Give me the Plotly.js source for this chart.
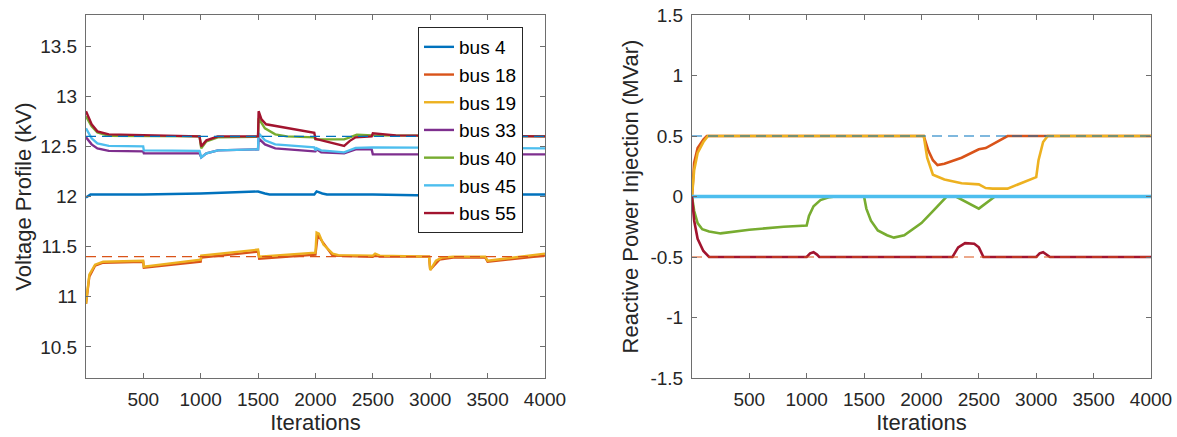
<!DOCTYPE html>
<html>
<head>
<meta charset="utf-8">
<script src="https://cdn.plot.ly/plotly-3.0.1.min.js"></script>
<style>html,body{margin:0;padding:0;background:#fff;}#chart{width:1177px;height:437px;}</style>
</head>
<body>
<div id="chart"></div>
<script>
// ---- data ----
const busNames = ["bus 4", "bus 18", "bus 19", "bus 33", "bus 40", "bus 45", "bus 55"];
const busColors = ["#0072BD", "#D95319", "#EDB120", "#7E2F8E", "#77AC30", "#4DBEEE", "#A2142F"];

// Voltage profile (kV)
const v4x  = [1, 40, 100, 500, 1000, 1300, 1500, 1560, 1600, 1990, 2010, 2060, 2100, 2500, 3000, 3500, 4000];
const v4y  = [11.99, 12.02, 12.02, 12.02, 12.03, 12.045, 12.05, 12.03, 12.02, 12.02, 12.05, 12.03, 12.02, 12.02, 12.01, 12.02, 12.02];
const v18x = [1, 30, 80, 150, 499, 505, 1000, 1005, 1500, 1510, 2000, 2020, 2060, 2150, 2500, 2520, 2560, 2990, 3000, 3080, 3200, 3480, 3500, 4000];
const v18y = [10.93, 11.20, 11.31, 11.34, 11.35, 11.29, 11.35, 11.39, 11.45, 11.38, 11.42, 11.62, 11.55, 11.41, 11.40, 11.42, 11.40, 11.40, 11.27, 11.37, 11.39, 11.39, 11.35, 11.41];
const v19x = [1, 30, 80, 150, 499, 505, 1000, 1005, 1500, 1510, 2000, 2010, 2030, 2070, 2150, 2200, 2500, 2520, 2560, 2990, 3000, 3050, 3100, 3200, 3480, 3500, 4000];
const v19y = [10.93, 11.22, 11.32, 11.35, 11.36, 11.30, 11.37, 11.41, 11.47, 11.40, 11.44, 11.64, 11.63, 11.52, 11.43, 11.415, 11.41, 11.43, 11.41, 11.40, 11.265, 11.36, 11.39, 11.40, 11.40, 11.36, 11.43];
const v33x = [1, 50, 100, 200, 499, 505, 990, 1005, 1050, 1150, 1500, 1505, 1560, 1650, 1990, 2000, 2010, 2050, 2250, 2300, 2350, 2490, 2500, 4000];
const v33y = [12.59, 12.52, 12.48, 12.455, 12.45, 12.43, 12.43, 12.39, 12.43, 12.46, 12.47, 12.58, 12.52, 12.48, 12.45, 12.45, 12.47, 12.44, 12.43, 12.45, 12.47, 12.47, 12.42, 12.42];
const v40x = [1, 50, 100, 200, 990, 1005, 1050, 1150, 1500, 1505, 1560, 1650, 1750, 1990, 2000, 2250, 2300, 2360, 2500, 4000];
const v40y = [12.80, 12.70, 12.64, 12.605, 12.60, 12.48, 12.55, 12.59, 12.595, 12.78, 12.68, 12.62, 12.60, 12.59, 12.57, 12.57, 12.59, 12.615, 12.61, 12.60];
const v45x = [1, 50, 100, 200, 499, 505, 990, 1005, 1050, 1150, 1500, 1505, 1560, 1650, 1990, 2000, 2010, 2050, 2250, 2300, 2350, 2500, 4000];
const v45y = [12.68, 12.58, 12.53, 12.505, 12.50, 12.46, 12.455, 12.39, 12.43, 12.46, 12.47, 12.63, 12.56, 12.52, 12.49, 12.46, 12.48, 12.46, 12.44, 12.46, 12.485, 12.49, 12.48];
const v55x = [1, 50, 100, 200, 990, 1005, 1050, 1150, 1500, 1505, 1530, 1570, 1990, 2000, 2250, 2300, 2350, 2490, 2500, 2700, 4000];
const v55y = [12.85, 12.72, 12.65, 12.62, 12.60, 12.50, 12.56, 12.60, 12.60, 12.85, 12.77, 12.72, 12.635, 12.575, 12.505, 12.555, 12.59, 12.60, 12.63, 12.61, 12.60];

// Reactive power injection (MVar)
const q4x  = [1, 4000];
const q4y  = [0, 0];
const q18x = [1, 20, 50, 100, 130, 2020, 2060, 2100, 2140, 2200, 2350, 2500, 2560, 2750, 4000];
const q18y = [0, 0.28, 0.40, 0.47, 0.5, 0.5, 0.38, 0.30, 0.26, 0.27, 0.32, 0.39, 0.40, 0.5, 0.5];
const q19x = [1, 20, 50, 100, 140, 2020, 2050, 2100, 2200, 2350, 2500, 2560, 2620, 2750, 3000, 3020, 3060, 3100, 4000];
const q19y = [0, 0.22, 0.36, 0.45, 0.5, 0.5, 0.32, 0.18, 0.14, 0.11, 0.10, 0.07, 0.065, 0.065, 0.16, 0.30, 0.45, 0.5, 0.5];
const q33x = [1, 4000];
const q33y = [0, 0];
const q40x = [1, 20, 50, 90, 150, 250, 500, 800, 1000, 1020, 1060, 1120, 1200, 1250, 1500, 1520, 1560, 1620, 1700, 1760, 1850, 2000, 2100, 2220, 2300, 2500, 2640, 4000];
const q40y = [0, -0.12, -0.22, -0.27, -0.29, -0.305, -0.275, -0.25, -0.24, -0.16, -0.08, -0.03, -0.005, 0, 0, -0.1, -0.2, -0.28, -0.32, -0.34, -0.32, -0.22, -0.12, 0, 0, -0.1, 0, 0];
const q45x = [1, 4000];
const q45y = [0, 0];
const q55x = [1, 20, 50, 100, 150, 1000, 1030, 1060, 1090, 1110, 2270, 2320, 2380, 2460, 2500, 2540, 3000, 3030, 3060, 3090, 3120, 4000];
const q55y = [0, -0.2, -0.35, -0.45, -0.5, -0.5, -0.47, -0.46, -0.48, -0.5, -0.5, -0.42, -0.385, -0.39, -0.42, -0.5, -0.5, -0.47, -0.46, -0.48, -0.5, -0.5];

// reference limits
const vUpper = 12.6, vLower = 11.4;
const qUpper = 0.5, qLower = -0.5;
const limX = [1, 4000];

const xTicks = [500, 1000, 1500, 2000, 2500, 3000, 3500, 4000];
const vTicks = [10.5, 11, 11.5, 12, 12.5, 13, 13.5];
const vTickText = ["10.5", "11", "11.5", "12", "12.5", "13", "13.5"];
const qTicks = [-1.5, -1, -0.5, 0, 0.5, 1, 1.5];
const qTickText = ["-1.5", "-1", "-0.5", "0", "0.5", "1", "1.5"];

// ---- traces ----
const vData = [[v4x, v4y], [v18x, v18y], [v19x, v19y], [v33x, v33y], [v40x, v40y], [v45x, v45y], [v55x, v55y]];
const qData = [[q4x, q4y], [q18x, q18y], [q19x, q19y], [q33x, q33y], [q40x, q40y], [q45x, q45y], [q55x, q55y]];

const traces = [];
vData.forEach((d, i) => {
  traces.push({x: d[0], y: d[1], type: 'scatter', mode: 'lines', name: busNames[i],
    line: {color: busColors[i], width: 2.4}, xaxis: 'x', yaxis: 'y', showlegend: true});
});
qData.forEach((d, i) => {
  traces.push({x: d[0], y: d[1], type: 'scatter', mode: 'lines', name: busNames[i],
    line: {color: busColors[i], width: i === 5 ? 3.5 : 2.6}, xaxis: 'x2', yaxis: 'y2', showlegend: false});
});
// dashed limits
traces.push({x: limX, y: [vUpper, vUpper], mode: 'lines', line: {color: busColors[0], width: 1.2, dash: '10px,6px'}, xaxis: 'x', yaxis: 'y', showlegend: false});
traces.push({x: limX, y: [vLower, vLower], mode: 'lines', line: {color: busColors[1], width: 1.2, dash: '10px,6px'}, xaxis: 'x', yaxis: 'y', showlegend: false});
traces.push({x: limX, y: [qUpper, qUpper], mode: 'lines', line: {color: busColors[0], width: 1.2, dash: '10px,6px'}, xaxis: 'x2', yaxis: 'y2', showlegend: false});
traces.push({x: limX, y: [qLower, qLower], mode: 'lines', line: {color: busColors[1], width: 1.2, dash: '10px,6px'}, xaxis: 'x2', yaxis: 'y2', showlegend: false});

const W = 1177, H = 437;
const font = "'Liberation Sans', Arial, Helvetica, sans-serif";
const axCommon = {
  showgrid: false, zeroline: false, showline: true, linecolor: '#6e6e6e', linewidth: 1,
  mirror: 'ticks', ticks: 'inside', ticklen: 5, tickwidth: 1, tickcolor: '#6e6e6e',
  tickfont: {family: font, size: 19, color: '#262626'}, automargin: false
};
const yDom = [1 - 378 / H, 1 - 15 / H];

const layout = {
  width: W, height: H,
  margin: {l: 0, r: 0, t: 0, b: 0},
  paper_bgcolor: '#fff', plot_bgcolor: '#fff',
  font: {family: font, color: '#262626'},
  xaxis: Object.assign({}, axCommon, {domain: [86 / W, 545 / W], range: [1, 4000], tickmode: 'array', tickvals: xTicks,
    ticklabelstandoff: 4,
    title: {text: 'Iterations', font: {family: font, size: 22, color: '#262626'}, standoff: 5}}),
  yaxis: Object.assign({}, axCommon, {domain: yDom, range: [10.19, 13.81], tickmode: 'array', tickvals: vTicks, ticktext: vTickText,
    ticklabelstandoff: 4,
    title: {text: 'Voltage Profile (kV)', font: {family: font, size: 22, color: '#262626'}, standoff: 2}}),
  xaxis2: Object.assign({}, axCommon, {domain: [692 / W, 1151 / W], range: [1, 4000], tickmode: 'array', tickvals: xTicks, anchor: 'y2',
    ticklabelstandoff: 4,
    title: {text: 'Iterations', font: {family: font, size: 22, color: '#262626'}, standoff: 5}}),
  yaxis2: Object.assign({}, axCommon, {domain: yDom, range: [-1.5, 1.5], tickmode: 'array', tickvals: qTicks, ticktext: qTickText, anchor: 'x2',
    ticklabelstandoff: 4,
    title: {text: 'Reactive Power Injection (MVar)', font: {family: font, size: 22, color: '#262626'}, standoff: 5}}),
  legend: {x: 418 / W, y: 1 - 27 / H, xanchor: 'left', yanchor: 'top', xref: 'paper', yref: 'paper',
    bgcolor: '#fff', bordercolor: '#262626', borderwidth: 1,
    font: {family: font, size: 19, color: '#000'}, tracegroupgap: 0, itemwidth: 30},
  showlegend: true
};

Plotly.newPlot('chart', traces, layout, {staticPlot: true, displayModeBar: false});
</script>
</body>
</html>
